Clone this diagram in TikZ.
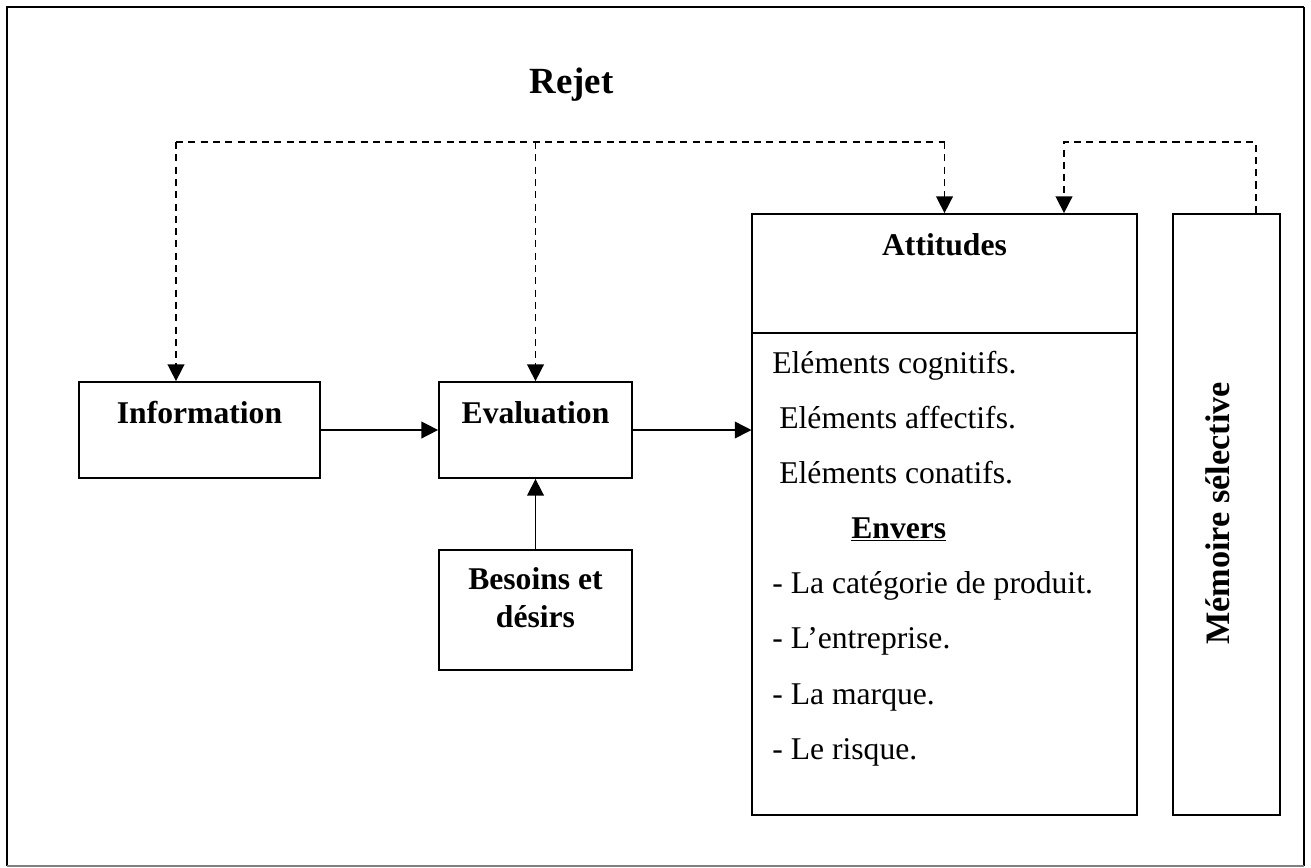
\documentclass[tikz,border=0pt]{standalone}
\usepackage{fontspec}
\setmainfont{Liberation Serif}
\usepackage{tikz}
\usetikzlibrary{positioning,arrows.meta}

\tikzset{
  boite/.style={draw, rectangle, line width=1pt, inner sep=0pt},
  titre/.style={font=\bfseries\fontsize{18}{21.5}\selectfont, inner sep=0pt},
  texte/.style={font=\fontsize{18}{24}\selectfont, anchor=base west, inner sep=0pt},
  fleche/.style={-{Triangle[length=9.5pt,width=9.5pt]}, line width=0.9pt},
  rejet/.style={dash pattern=on 4pt off 3pt, line width=0.8pt}
}

\begin{document}
\begin{tikzpicture}
\useasboundingbox (0,0) rectangle (26.22,-17.34);

% cadre
\draw[line width=1.3pt] (0.14,-17.32) -- (0.14,-0.14) -- (26.08,-0.14);
\draw[line width=0.9pt] (26.08,-0.14) -- (26.08,-17.32);
\draw[gray, line width=0.8pt] (26.08,-17.32) -- (0.14,-17.32);

% boites
\node[boite, minimum width=4.82cm, minimum height=1.92cm] (info) at (3.99,-8.60) {};
\node[boite, minimum width=3.86cm, minimum height=1.92cm] (eval) at (10.71,-8.60) {};
\node[boite, minimum width=3.86cm, minimum height=2.40cm] (besoins) at (10.71,-12.20) {};
\node[boite, line width=0.6pt, minimum width=7.70cm, minimum height=9.64cm] (elem) at (18.89,-11.48) {};
\node[boite, minimum width=7.70cm, minimum height=2.38cm] (att) at (18.89,-5.47) {};
\node[boite, minimum width=2.14cm, minimum height=12.02cm] (memoire) at (24.53,-10.29) {};

% textes
\node[titre, anchor=base, font=\bfseries\fontsize{21}{25}\selectfont] (trejet) at (11.43,-1.86) {Rejet};
\node[titre, anchor=base] (tinfo) at (3.99,-8.46) {Information};
\node[titre, anchor=base] (teval) at (10.71,-8.46) {Evaluation};
\node[titre, align=center] (tbesoins) at (10.71,-11.95) {Besoins et\\désirs};
\node[titre, anchor=base] (tatt) at (18.89,-5.10) {Attitudes};
\node[titre, rotate=90, font=\bfseries\fontsize{19.5}{24}\selectfont] (tmemoire) at (24.36,-10.27) {Mémoire sélective};

\node[texte] (cogn) at (15.44,-7.46) {Eléments cognitifs.};
\node[texte] (affe) at (15.58,-8.56) {Eléments affectifs.};
\node[texte] (cona) at (15.58,-9.66) {Eléments conatifs.};
\node[texte, font=\bfseries\fontsize{18}{24}\selectfont] (envers) at (17.02,-10.76) {\underline{Envers}};
\node[texte] (cat) at (15.44,-11.86) {- La catégorie de produit.};
\node[texte] (entr) at (15.44,-12.97) {- L’entreprise.};
\node[texte] (marq) at (15.44,-14.08) {- La marque.};
\node[texte] (risq) at (15.44,-15.18) {- Le risque.};

% fleches
\draw[fleche] (info.east) -- (eval.west);
\draw[fleche] (eval.east) -- (eval.east -| elem.west);
\draw[fleche] (besoins.north) -- (eval.south);

% rejet
\coordinate (r1) at (3.52,-2.84);
\coordinate (m1) at (25.12,-2.84);
\coordinate (m2) at (21.28,-2.84);
\draw[rejet] (r1) -- (att.north |- r1);
\draw[rejet, fleche] (r1) -- (r1 |- info.north);
\draw[rejet, fleche] (eval.north |- r1) -- (eval.north);
\draw[rejet, fleche] (att.north |- r1) -- (att.north);
\draw[rejet, fleche] (m1 |- memoire.north) -- (m1) -- (m2) -- (m2 |- att.north);
\end{tikzpicture}
\end{document}
